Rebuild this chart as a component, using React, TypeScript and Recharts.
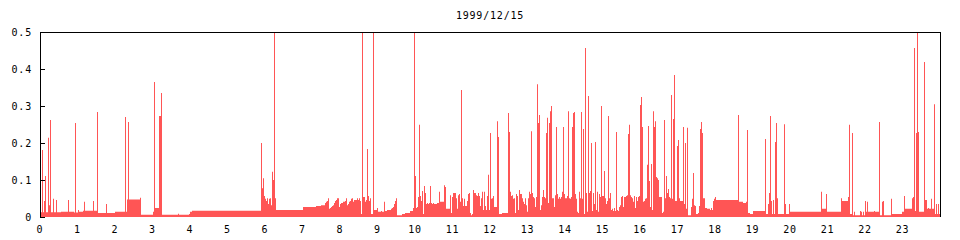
import { AreaChart, Area, XAxis, YAxis } from 'recharts'

const SAMPLES_PER_HOUR = 37.5 // one sample every 1.6 min
const HOURS = 24

// quiet background level: [start hour, value], holds until the next entry
const quietLevels: [number, number][] = [
  [0, 0.013], [0.55, 0.014], [0.9, 0.012], [1.0, 0.014], [1.15, 0.017],
  [1.55, 0.011], [2.0, 0.014], [2.32, 0.047], [2.69, 0.006], [3.01, 0.014],
  [3.07, 0.024], [3.17, 0.273], [3.23, 0.335], [3.25, 0.006], [3.97, 0.008],
  [3.99, 0.014], [4.05, 0.017], [6.29, 0.019], [7.01, 0.027], [7.36, 0.03],
  [7.49, 0.032], [18.03, 0.046], [18.64, 0.041], [18.75, 0.038], [18.88, 0.011],
  [18.93, 0.008], [19.01, 0.016], [19.36, 0.008], [20.0, 0.014], [20.85, 0.022],
  [20.99, 0.014], [21.39, 0.043], [21.6, 0.008], [21.68, 0.005], [22.08, 0.014],
  [22.4, 0.005], [22.72, 0.008], [22.99, 0.014], [23.07, 0.022], [23.44, 0.014],
  [23.6, 0.046], [23.65, 0.022], [23.87, 0.008],
]

// isolated impulses: [hour, value]
const spikes: [number, number][] = [
  [0, 0.038], [0.05, 0.181], [0.11, 0.043], [0.13, 0.111], [0.21, 0.214],
  [0.24, 0.032], [0.27, 0.262], [0.35, 0.049], [0.43, 0.046], [0.75, 0.046],
  [0.93, 0.254], [1.01, 0.019], [1.17, 0.041], [1.41, 0.043], [1.52, 0.284],
  [1.76, 0.035], [2.27, 0.27], [2.35, 0.257], [2.67, 0.052], [3.04, 0.365],
  [3.68, 0.009],
  [18.0, 0.054], [18.61, 0.276], [18.83, 0.041], [18.85, 0.235], [19.33, 0.211],
  [19.41, 0.035], [19.44, 0.065], [19.47, 0.273], [19.49, 0.043], [19.55, 0.046],
  [19.6, 0.203], [19.63, 0.254], [19.65, 0.051], [19.84, 0.251], [19.87, 0.035],
  [19.97, 0.035], [20.83, 0.068], [20.96, 0.062], [21.36, 0.051], [21.55, 0.054],
  [21.57, 0.249], [21.65, 0.227], [21.71, 0.014], [21.87, 0.016], [21.89, 0.014],
  [21.95, 0.014], [22.0, 0.043], [22.03, 0.014], [22.05, 0.041], [22.24, 0.016],
  [22.37, 0.257], [22.45, 0.041], [22.48, 0.043], [22.69, 0.049], [23.04, 0.057],
  [23.25, 0.051], [23.28, 0.054], [23.31, 0.457], [23.33, 0.016], [23.36, 0.227],
  [23.39, 0.5], [23.41, 0.23], [23.57, 0.419], [23.68, 0.024], [23.76, 0.049],
  [23.84, 0.305], [23.89, 0.035], [23.95, 0.035],
]

// dense stretches: one value per sample from the start hour
const dawnStart = 5.89
const dawnRun = [
  0.2, 0.078, 0.105, 0.057, 0.049, 0.043, 0.051, 0.035, 0.049, 0.051,
  0.032, 0.122, 0.1, 0.5, 0.051,
]

const rampStart = 7.6
const rampRun = [
  0.038, 0.041, 0.043, 0.051, 0.022, 0.024, 0.027, 0.03, 0.032, 0.038,
  0.043, 0.046, 0.051, 0.051, 0.027, 0.035, 0.038, 0.038, 0.041, 0.041,
  0.043, 0.051, 0.032, 0.035, 0.041, 0.043, 0.049, 0.051, 0.041, 0.046,
  0.046, 0.046, 0.051, 0.046, 0.051, 0.043, 0.008, 0.5, 0.054, 0.054,
  0.041, 0.046, 0.184, 0.057, 0.043, 0.051, 0.008, 0.008, 0.5, 0.019,
  0.019, 0.019, 0.024, 0.014, 0.014, 0.014, 0.016, 0.014, 0.014, 0.041,
  0.016, 0.016, 0.019, 0.019, 0.019, 0.019, 0.022, 0.024, 0.027, 0.035,
  0.043, 0.051, 0.005, 0.005, 0.005, 0.005, 0.005, 0.008, 0.008, 0.008,
  0.011, 0.011, 0.011, 0.011, 0.011, 0.016, 0.016, 0.016,
]

const busyStart = 9.95
const busyRun = [
  // 9.95 - 11.98
  0.024, 0.5, 0.111, 0.024, 0.027, 0.054, 0.249, 0.057, 0.043, 0.07,
  0.008, 0.084, 0.065, 0.035, 0.038, 0.035, 0.038, 0.084, 0.038, 0.035,
  0.038, 0.035, 0.035, 0.035, 0.038, 0.038, 0.068, 0.041, 0.041, 0.041,
  0.041, 0.086, 0.081, 0.022, 0.022, 0.022, 0.022, 0.059, 0.011, 0.054,
  0.065, 0.065, 0.065, 0.051, 0.022, 0.059, 0.062, 0.041, 0.343, 0.051,
  0.03, 0.049, 0.03, 0.03, 0.043, 0.062, 0.065, 0.011, 0.005, 0.008,
  0.073, 0.065, 0.065, 0.059, 0.057, 0.065, 0.057, 0.03, 0.051, 0.068,
  0.019, 0.068, 0.03, 0.019, 0.057, 0.114, 0.019,
  // 12.0 - 14.99
  0.227, 0.049, 0.051, 0.057, 0.027, 0.027, 0.027, 0.259, 0.216, 0.008,
  0.008, 0.008, 0.011, 0.011, 0.011, 0.011, 0.011, 0.011, 0.281, 0.23,
  0.068, 0.057, 0.059, 0.049, 0.051, 0.011, 0.062, 0.057, 0.019, 0.073,
  0.062, 0.062, 0.051, 0.041, 0.035, 0.051, 0.032, 0.014, 0.051, 0.068,
  0.062, 0.232, 0.065, 0.054, 0.051, 0.027, 0.054, 0.359, 0.254, 0.276,
  0.019, 0.032, 0.054, 0.073, 0.054, 0.051, 0.227, 0.268, 0.038, 0.254,
  0.286, 0.3, 0.051, 0.051, 0.027, 0.059, 0.243, 0.062, 0.049, 0.054,
  0.049, 0.054, 0.068, 0.243, 0.062, 0.051, 0.051, 0.057, 0.286, 0.051,
  0.049, 0.054, 0.243, 0.281, 0.284, 0.062, 0.049, 0.014, 0.011, 0.068,
  0.051, 0.284, 0.049, 0.238, 0.008, 0.457, 0.065, 0.014, 0.327, 0.065,
  0.07, 0.2, 0.016, 0.065, 0.035, 0.203, 0.019, 0.068, 0.014, 0.062,
  0.054, 0.3, 0.057,
  // 15.0 - 17.97
  0.057, 0.124, 0.051, 0.035, 0.043, 0.273, 0.051, 0.065, 0.019, 0.022,
  0.016, 0.024, 0.016, 0.23, 0.019, 0.016, 0.027, 0.032, 0.054, 0.057,
  0.027, 0.054, 0.054, 0.057, 0.059, 0.224, 0.249, 0.059, 0.054, 0.051,
  0.041, 0.057, 0.024, 0.054, 0.043, 0.054, 0.057, 0.303, 0.324, 0.243,
  0.041, 0.043, 0.049, 0.051, 0.141, 0.246, 0.097, 0.027, 0.143, 0.019,
  0.286, 0.243, 0.259, 0.108, 0.105, 0.1, 0.054, 0.054, 0.054, 0.011,
  0.014, 0.262, 0.051, 0.111, 0.065, 0.076, 0.054, 0.051, 0.33, 0.049,
  0.265, 0.384, 0.043, 0.043, 0.192, 0.208, 0.051, 0.043, 0.043, 0.043,
  0.243, 0.035, 0.2, 0.022, 0.241, 0.005, 0.005, 0.005, 0.027, 0.049,
  0.119, 0.032, 0.03, 0.008, 0.008, 0.011, 0.03, 0.238, 0.257, 0.227,
  0.051, 0.051, 0.024, 0.024, 0.022, 0.022, 0.022, 0.019, 0.024, 0.019,
  0.043, 0.049,
]

const hourTicks = Array.from({ length: 24 }, (_, h) => h)
const valueTicks = [0, 0.1, 0.2, 0.3, 0.4, 0.5]

// build one row per sample
const idx = (h: number) => Math.round(h * SAMPLES_PER_HOUR)
const total = HOURS * SAMPLES_PER_HOUR
const values: number[] = []
let lv = 0
for (let i = 0; i < total; i++) {
  while (lv + 1 < quietLevels.length && idx(quietLevels[lv + 1][0]) <= i) lv++
  values.push(quietLevels[lv][1])
}
const runs: [number, number[]][] = [
  [dawnStart, dawnRun],
  [rampStart, rampRun],
  [busyStart, busyRun],
]
runs.forEach(([start, run]) => run.forEach((v, k) => { values[idx(start) + k] = v }))
spikes.forEach(([h, v]) => { values[idx(h)] = v })

const data = values.map((v, i) => ({ t: i / SAMPLES_PER_HOUR, v }))
data.push({ t: HOURS, v: values[values.length - 1] })

const line = { stroke: '#000', strokeWidth: 1, shapeRendering: 'crispEdges' }
const tickText = { fill: '#000', fontSize: 10, fontFamily: 'DejaVu Sans Mono' }

export default function App() {
  return (
    <div
      style={{
        position: 'absolute',
        left: 0,
        top: 0,
        width: 960,
        height: 240,
        background: '#fff',
        fontFamily: 'DejaVu Sans Mono',
        letterSpacing: '0.8px',
      }}
    >
      <div
        style={{
          position: 'absolute',
          left: 40,
          width: 900,
          top: 10,
          textAlign: 'center',
          fontSize: 10,
          lineHeight: '12px',
          color: '#000',
        }}
      >
        1999/12/15
      </div>
      <AreaChart
        width={960}
        height={240}
        data={data}
        margin={{ top: 31, right: 19, bottom: 0, left: 0 }}
      >
        <XAxis
          xAxisId="b"
          dataKey="t"
          type="number"
          domain={[0, 24]}
          ticks={hourTicks}
          interval={0}
          height={23}
          tickSize={0}
          tickLine={false}
          axisLine={false}
          tickMargin={9}
          tick={tickText}
          allowDataOverflow
        />
        {/* mirrored frame: top edge with inward ticks */}
        <XAxis
          xAxisId="top"
          orientation="top"
          dataKey="t"
          type="number"
          domain={[0, 24]}
          ticks={hourTicks.slice(1)}
          interval={0}
          height={1}
          tick={false}
          tickSize={-6}
          axisLine={line}
          tickLine={line}
          allowDataOverflow
        />
        <YAxis
          yAxisId="l"
          type="number"
          domain={[0, 0.5]}
          ticks={valueTicks}
          interval={0}
          width={40}
          tickSize={-5}
          tickMargin={13}
          tick={tickText}
          axisLine={line}
          tickLine={line}
          tickFormatter={(v: number) => (v === 0 ? '0' : v.toFixed(1))}
          allowDataOverflow
        />
        {/* mirrored frame: right edge with inward ticks */}
        <YAxis
          yAxisId="r"
          orientation="right"
          type="number"
          domain={[0, 0.5]}
          ticks={valueTicks.slice(1)}
          interval={0}
          width={1}
          tick={false}
          tickSize={-5}
          axisLine={line}
          tickLine={line}
          allowDataOverflow
        />
        <Area
          xAxisId="b"
          yAxisId="l"
          type="stepAfter"
          dataKey="v"
          stroke="none"
          fill="#ff5555"
          fillOpacity={1}
          baseValue={0}
          isAnimationActive={false}
        />
      </AreaChart>
    </div>
  )
}
